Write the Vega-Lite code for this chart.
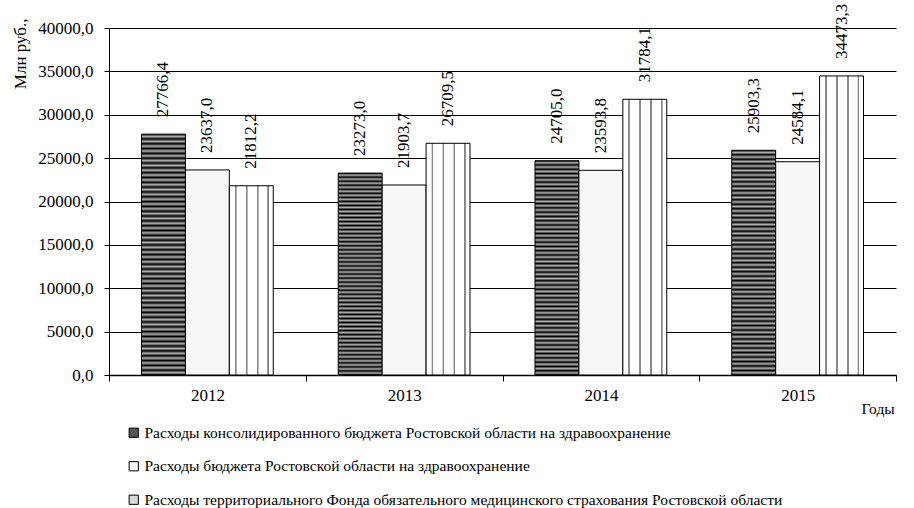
{
  "$schema": "https://vega.github.io/schema/vega-lite/v6.json",
  "autosize": {"type": "none"},
  "padding": {"left": 109, "top": 28, "right": 18, "bottom": 133},
  "width": 787,
  "height": 347,
  "background": "white",
  "config": {
    "font": "Liberation Serif",
    "view": {"stroke": null},
    "locale": {"number": {"decimal": ",", "thousands": "", "grouping": [3], "currency": ["", ""]}}
  },
  "data": {
    "values": [
      {"year": "2012", "series": "Расходы консолидированного  бюджета Ростовской области на здравоохранение", "value": 27766.4},
      {"year": "2012", "series": "Расходы бюджета  Ростовской области на здравоохранение", "value": 23637.0},
      {"year": "2012", "series": "Расходы территориального Фонда  обязательного медицинского  страхования  Ростовской области", "value": 21812.2},
      {"year": "2013", "series": "Расходы консолидированного  бюджета Ростовской области на здравоохранение", "value": 23273.0},
      {"year": "2013", "series": "Расходы бюджета  Ростовской области на здравоохранение", "value": 21903.7},
      {"year": "2013", "series": "Расходы территориального Фонда  обязательного медицинского  страхования  Ростовской области", "value": 26709.5},
      {"year": "2014", "series": "Расходы консолидированного  бюджета Ростовской области на здравоохранение", "value": 24705.0},
      {"year": "2014", "series": "Расходы бюджета  Ростовской области на здравоохранение", "value": 23593.8},
      {"year": "2014", "series": "Расходы территориального Фонда  обязательного медицинского  страхования  Ростовской области", "value": 31784.1},
      {"year": "2015", "series": "Расходы консолидированного  бюджета Ростовской области на здравоохранение", "value": 25903.3},
      {"year": "2015", "series": "Расходы бюджета  Ростовской области на здравоохранение", "value": 24584.1},
      {"year": "2015", "series": "Расходы территориального Фонда  обязательного медицинского  страхования  Ростовской области", "value": 34473.3}
    ]
  },
  "encoding": {
    "x": {
      "field": "year", "type": "nominal",
      "scale": {"paddingInner": 0, "paddingOuter": 0},
      "axis": {
        "title": "Годы", "titleFontSize": 15.5, "titleFontWeight": "normal", "titleColor": "black",
        "titleX": 752, "titleY": 26, "titleAlign": "left", "titleAnchor": null,
        "labelAngle": 0, "labelFontSize": 17, "labelColor": "black", "labelPadding": 6,
        "tickBand": "extent", "tickSize": 6, "tickColor": "black", "domainColor": "black", "domainWidth": 1.5,
        "grid": false
      }
    },
    "y": {
      "field": "value", "type": "quantitative",
      "scale": {"domain": [0, 40000]},
      "axis": {
        "title": "Млн руб.,", "titleFontSize": 17, "titleFontWeight": "normal", "titleColor": "black",
        "titleAngle": -90, "titleAlign": "right", "titleBaseline": "middle", "titleX": -89, "titleY": -10,
        "values": [0, 5000, 10000, 15000, 20000, 25000, 30000, 35000, 40000],
        "format": ".1f", "labelFontSize": 17, "labelColor": "black", "labelPadding": 11,
        "tickSize": 5, "tickColor": "black", "domainColor": "black",
        "grid": true, "gridColor": "black", "gridWidth": 1
      }
    },
    "xOffset": {
      "field": "series", "type": "nominal",
      "sort": ["Расходы консолидированного  бюджета Ростовской области на здравоохранение", "Расходы бюджета  Ростовской области на здравоохранение", "Расходы территориального Фонда  обязательного медицинского  страхования  Ростовской области"],
      "scale": {"paddingInner": 0, "paddingOuter": 0.74}
    }
  },
  "layer": [
    {
      "mark": {"type": "bar", "stroke": "black", "strokeWidth": 1},
      "encoding": {
        "fill": {
          "condition": [
            {"test": "datum.series == 'Расходы консолидированного  бюджета Ростовской области на здравоохранение'", "value": {"gradient": "linear", "x1": 0, "y1": 0, "x2": 0, "y2": 1, "stops": [
              {"offset": 0.00, "color": "#000"}, {"offset": 0.01, "color": "#b0b0b0"}, {"offset": 0.02, "color": "#000"}, {"offset": 0.03, "color": "#b0b0b0"}, {"offset": 0.04, "color": "#000"}, {"offset": 0.05, "color": "#b0b0b0"}, {"offset": 0.06, "color": "#000"}, {"offset": 0.07, "color": "#b0b0b0"}, {"offset": 0.08, "color": "#000"}, {"offset": 0.09, "color": "#b0b0b0"},
              {"offset": 0.10, "color": "#000"}, {"offset": 0.11, "color": "#b0b0b0"}, {"offset": 0.12, "color": "#000"}, {"offset": 0.13, "color": "#b0b0b0"}, {"offset": 0.14, "color": "#000"}, {"offset": 0.15, "color": "#b0b0b0"}, {"offset": 0.16, "color": "#000"}, {"offset": 0.17, "color": "#b0b0b0"}, {"offset": 0.18, "color": "#000"}, {"offset": 0.19, "color": "#b0b0b0"},
              {"offset": 0.20, "color": "#000"}, {"offset": 0.21, "color": "#b0b0b0"}, {"offset": 0.22, "color": "#000"}, {"offset": 0.23, "color": "#b0b0b0"}, {"offset": 0.24, "color": "#000"}, {"offset": 0.25, "color": "#b0b0b0"}, {"offset": 0.26, "color": "#000"}, {"offset": 0.27, "color": "#b0b0b0"}, {"offset": 0.28, "color": "#000"}, {"offset": 0.29, "color": "#b0b0b0"},
              {"offset": 0.30, "color": "#000"}, {"offset": 0.31, "color": "#b0b0b0"}, {"offset": 0.32, "color": "#000"}, {"offset": 0.33, "color": "#b0b0b0"}, {"offset": 0.34, "color": "#000"}, {"offset": 0.35, "color": "#b0b0b0"}, {"offset": 0.36, "color": "#000"}, {"offset": 0.37, "color": "#b0b0b0"}, {"offset": 0.38, "color": "#000"}, {"offset": 0.39, "color": "#b0b0b0"},
              {"offset": 0.40, "color": "#000"}, {"offset": 0.41, "color": "#b0b0b0"}, {"offset": 0.42, "color": "#000"}, {"offset": 0.43, "color": "#b0b0b0"}, {"offset": 0.44, "color": "#000"}, {"offset": 0.45, "color": "#b0b0b0"}, {"offset": 0.46, "color": "#000"}, {"offset": 0.47, "color": "#b0b0b0"}, {"offset": 0.48, "color": "#000"}, {"offset": 0.49, "color": "#b0b0b0"},
              {"offset": 0.50, "color": "#000"}, {"offset": 0.51, "color": "#b0b0b0"}, {"offset": 0.52, "color": "#000"}, {"offset": 0.53, "color": "#b0b0b0"}, {"offset": 0.54, "color": "#000"}, {"offset": 0.55, "color": "#b0b0b0"}, {"offset": 0.56, "color": "#000"}, {"offset": 0.57, "color": "#b0b0b0"}, {"offset": 0.58, "color": "#000"}, {"offset": 0.59, "color": "#b0b0b0"},
              {"offset": 0.60, "color": "#000"}, {"offset": 0.61, "color": "#b0b0b0"}, {"offset": 0.62, "color": "#000"}, {"offset": 0.63, "color": "#b0b0b0"}, {"offset": 0.64, "color": "#000"}, {"offset": 0.65, "color": "#b0b0b0"}, {"offset": 0.66, "color": "#000"}, {"offset": 0.67, "color": "#b0b0b0"}, {"offset": 0.68, "color": "#000"}, {"offset": 0.69, "color": "#b0b0b0"},
              {"offset": 0.70, "color": "#000"}, {"offset": 0.71, "color": "#b0b0b0"}, {"offset": 0.72, "color": "#000"}, {"offset": 0.73, "color": "#b0b0b0"}, {"offset": 0.74, "color": "#000"}, {"offset": 0.75, "color": "#b0b0b0"}, {"offset": 0.76, "color": "#000"}, {"offset": 0.77, "color": "#b0b0b0"}, {"offset": 0.78, "color": "#000"}, {"offset": 0.79, "color": "#b0b0b0"},
              {"offset": 0.80, "color": "#000"}, {"offset": 0.81, "color": "#b0b0b0"}, {"offset": 0.82, "color": "#000"}, {"offset": 0.83, "color": "#b0b0b0"}, {"offset": 0.84, "color": "#000"}, {"offset": 0.85, "color": "#b0b0b0"}, {"offset": 0.86, "color": "#000"}, {"offset": 0.87, "color": "#b0b0b0"}, {"offset": 0.88, "color": "#000"}, {"offset": 0.89, "color": "#b0b0b0"},
              {"offset": 0.90, "color": "#000"}, {"offset": 0.91, "color": "#b0b0b0"}, {"offset": 0.92, "color": "#000"}, {"offset": 0.93, "color": "#b0b0b0"}, {"offset": 0.94, "color": "#000"}, {"offset": 0.95, "color": "#b0b0b0"}, {"offset": 0.96, "color": "#000"}, {"offset": 0.97, "color": "#b0b0b0"}, {"offset": 0.98, "color": "#000"}, {"offset": 0.99, "color": "#b0b0b0"},
              {"offset": 1.00, "color": "#000"}
            ]}},
            {"test": "datum.series == 'Расходы территориального Фонда  обязательного медицинского  страхования  Ростовской области'", "value": {"gradient": "linear", "x1": 0, "y1": 0, "x2": 1, "y2": 0, "stops": [
              {"offset": 0.00, "color": "#fff"}, {"offset": 0.12, "color": "#fff"}, {"offset": 0.13, "color": "#888"}, {"offset": 0.16, "color": "#888"}, {"offset": 0.17, "color": "#fff"},
              {"offset": 0.37, "color": "#fff"}, {"offset": 0.38, "color": "#888"}, {"offset": 0.41, "color": "#888"}, {"offset": 0.42, "color": "#fff"},
              {"offset": 0.62, "color": "#fff"}, {"offset": 0.63, "color": "#888"}, {"offset": 0.66, "color": "#888"}, {"offset": 0.67, "color": "#fff"},
              {"offset": 0.86, "color": "#fff"}, {"offset": 0.87, "color": "#888"}, {"offset": 0.90, "color": "#888"}, {"offset": 0.91, "color": "#fff"},
              {"offset": 1.00, "color": "#fff"}
            ]}}
          ],
          "field": "series", "type": "nominal",
          "sort": ["Расходы консолидированного  бюджета Ростовской области на здравоохранение", "Расходы бюджета  Ростовской области на здравоохранение", "Расходы территориального Фонда  обязательного медицинского  страхования  Ростовской области"],
          "scale": {"range": ["#555555", "#f7f7f7", "#d8d8d8"]},
          "legend": {
            "title": null, "orient": "none", "legendX": 17, "legendY": 397, "direction": "vertical",
            "symbolType": "square", "symbolSize": 85, "symbolStrokeColor": "black", "symbolStrokeWidth": 1,
            "labelFontSize": 15.5, "labelColor": "black", "labelOffset": 3, "rowPadding": 16.5, "labelLimit": 850
          }
        }
      }
    },
    {
      "mark": {"type": "text", "angle": -90, "align": "left", "baseline": "middle", "dx": 17, "fontSize": 17, "color": "black"},
      "encoding": {
        "text": {"field": "value", "type": "quantitative", "format": ".1f"}
      }
    }
  ]
}
